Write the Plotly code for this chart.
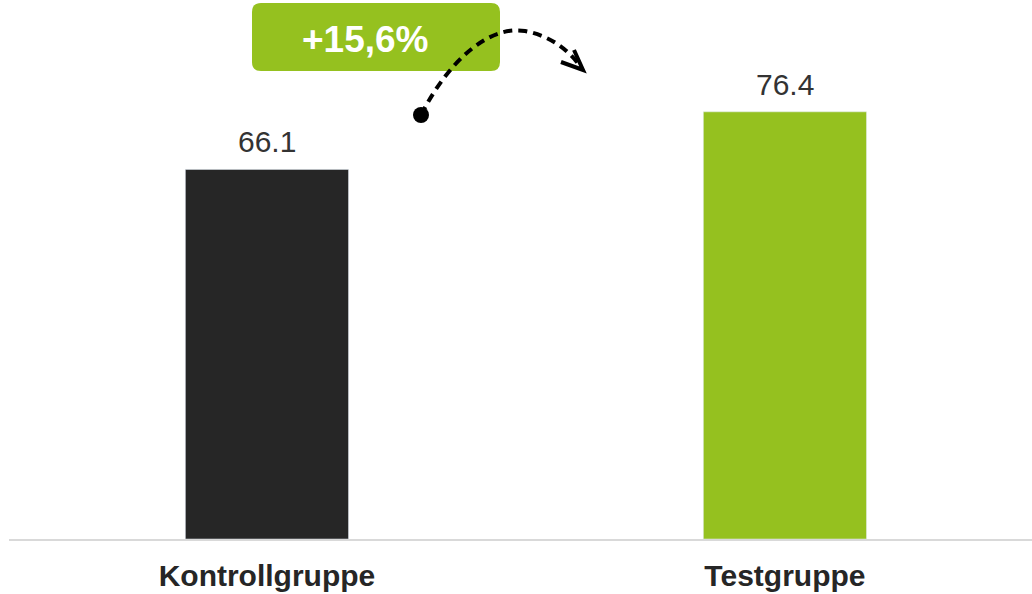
import plotly.graph_objects as go

categories = ["Kontrollgruppe", "Testgruppe"]
values = [66.1, 76.4]
bar_colors = ["#262626", "#95c11f"]
change_label = "+15,6%"

W, H = 1032, 594
ML, MR, MT, MB = 9, 0, 0, 55
PW, PH = W - ML - MR, H - MT - MB

def px(x):
    return (x - ML) / PW

def py(y):
    return (H - MB - y) / PH

FONT = "Liberation Sans, Arial, sans-serif"

fig = go.Figure()
fig.add_trace(go.Bar(
    x=categories, y=values, marker_color=bar_colors, width=0.315,
    hoverinfo="skip",
))

for c, v in zip(categories, values):
    fig.add_annotation(x=c, y=v, text=f"{v:.1f}", showarrow=False,
                       yanchor="bottom", yshift=9,
                       font=dict(family=FONT, size=30, color="#333333"))

# rounded green label box
x0, x1, y0, y1, r = 252, 500, 3, 71, 9
box = (f"M {px(x0+r)} {py(y0)} L {px(x1-r)} {py(y0)} "
       f"Q {px(x1)} {py(y0)} {px(x1)} {py(y0+r)} "
       f"L {px(x1)} {py(y1-r)} Q {px(x1)} {py(y1)} {px(x1-r)} {py(y1)} "
       f"L {px(x0+r)} {py(y1)} Q {px(x0)} {py(y1)} {px(x0)} {py(y1-r)} "
       f"L {px(x0)} {py(y0+r)} Q {px(x0)} {py(y0)} {px(x0+r)} {py(y0)} Z")
fig.add_shape(type="path", path=box, xref="paper", yref="paper",
              fillcolor="#95c11f", line=dict(width=0), layer="below")
fig.add_annotation(x=px(365), y=py(40), xref="paper", yref="paper",
                   xanchor="center", yanchor="middle",
                   text=f"<b>{change_label}</b>", showarrow=False,
                   font=dict(family=FONT, size=37, color="white"))

# dashed curved arrow
curve = (f"M {px(421)} {py(115)} C {px(448)} {py(62)} {px(488)} {py(25)} {px(525)} {py(31)} "
         f"C {px(552)} {py(36)} {px(570)} {py(52)} {px(580)} {py(66)}")
fig.add_shape(type="path", path=curve, xref="paper", yref="paper",
              line=dict(color="black", width=4, dash="9px,6px"))
head = f"M {px(561)} {py(62)} L {px(583)} {py(70)} L {px(574)} {py(50)}"
fig.add_shape(type="path", path=head, xref="paper", yref="paper",
              line=dict(color="black", width=4))
fig.add_shape(type="circle", xref="paper", yref="paper",
              x0=px(413), x1=px(429), y0=py(123), y1=py(107),
              fillcolor="black", line=dict(width=0))

fig.update_layout(
    width=W, height=H,
    margin=dict(l=ML, r=MR, t=MT, b=MB),
    plot_bgcolor="white", paper_bgcolor="white",
    showlegend=False,
    xaxis=dict(range=[-0.498, 1.477], showgrid=False, zeroline=False,
               showline=True, linecolor="#d9d9d9", linewidth=2,
               ticks="", ticklabelstandoff=9,
               tickfont=dict(family=FONT, size=30, color="#262626"),
               tickprefix="<b>", ticksuffix="</b>"),
    yaxis=dict(range=[0, 96.4], visible=False),
)

fig.write_html("out.html")
